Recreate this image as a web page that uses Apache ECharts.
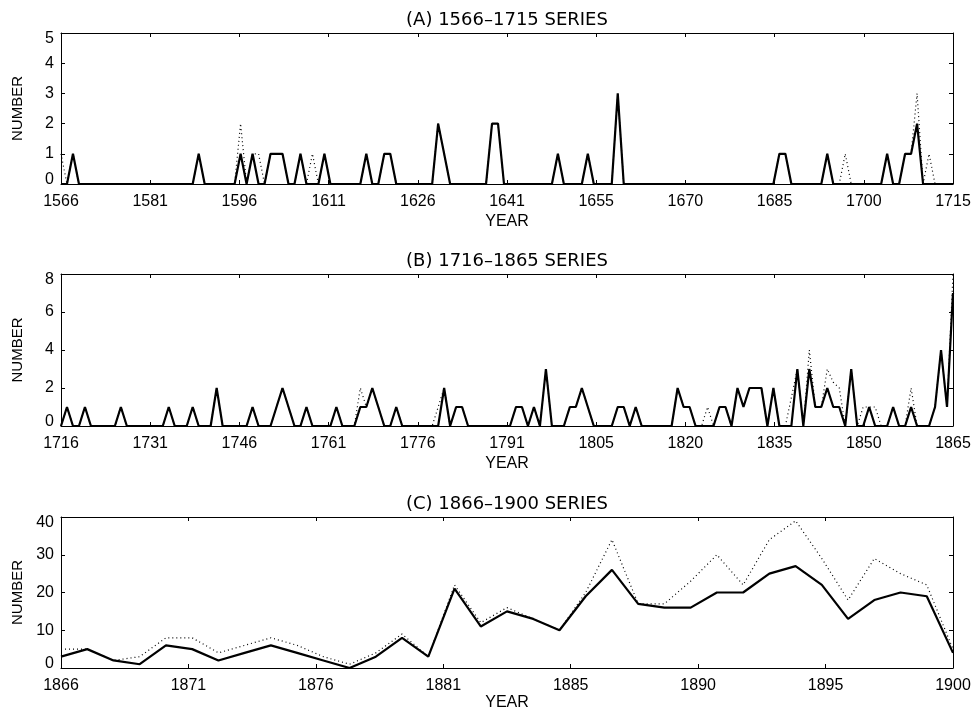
<!DOCTYPE html>
<html>
<head>
<meta charset="utf-8">
<title>Series 1566-1900</title>
<script src="https://cdn.jsdelivr.net/npm/echarts@6/dist/echarts.min.js"></script>
<style>
  html, body { margin: 0; padding: 0; background: #fff; }
  #chart { width: 976px; height: 712px; }
</style>
</head>
<body>
<div id="chart"></div>
<script>
// ---- data (one value per year) ----
const START_A = 1566, END_A = 1715
const LABELS_A = ['1566', '1581', '1596', '1611', '1626', '1641', '1655', '1670', '1685', '1700', '1715']
const SOLID_A = [
  0, 0, 1, 0, 0, 0, 0, 0, 0, 0, // 1566
  0, 0, 0, 0, 0, 0, 0, 0, 0, 0, // 1576
  0, 0, 0, 1, 0, 0, 0, 0, 0, 0, // 1586
  1, 0, 1, 0, 0, 1, 1, 1, 0, 0, // 1596
  1, 0, 0, 0, 1, 0, 0, 0, 0, 0, // 1606
  0, 1, 0, 0, 1, 1, 0, 0, 0, 0, // 1616
  0, 0, 0, 2, 1, 0, 0, 0, 0, 0, // 1626
  0, 0, 2, 2, 0, 0, 0, 0, 0, 0, // 1636
  0, 0, 0, 1, 0, 0, 0, 0, 1, 0, // 1646
  0, 0, 0, 3, 0, 0, 0, 0, 0, 0, // 1656
  0, 0, 0, 0, 0, 0, 0, 0, 0, 0, // 1666
  0, 0, 0, 0, 0, 0, 0, 0, 0, 0, // 1676
  1, 1, 0, 0, 0, 0, 0, 0, 1, 0, // 1686
  0, 0, 0, 0, 0, 0, 0, 0, 1, 0, // 1696
  0, 1, 1, 2, 0, 0, 0, 0, 0, 0, // 1706
]
const DOTTED_A = [
  1, 0, 1, 0, 0, 0, 0, 0, 0, 0, // 1566
  0, 0, 0, 0, 0, 0, 0, 0, 0, 0, // 1576
  0, 0, 0, 1, 0, 0, 0, 0, 0, 0, // 1586
  2, 0, 1, 1, 0, 1, 1, 1, 0, 0, // 1596
  1, 0, 1, 0, 1, 0, 0, 0, 0, 0, // 1606
  0, 1, 0, 0, 1, 1, 0, 0, 0, 0, // 1616
  0, 0, 0, 2, 1, 0, 0, 0, 0, 0, // 1626
  0, 0, 2, 2, 0, 0, 0, 0, 0, 0, // 1636
  0, 0, 0, 1, 0, 0, 0, 0, 1, 0, // 1646
  0, 0, 0, 3, 0, 0, 0, 0, 0, 0, // 1656
  0, 0, 0, 0, 0, 0, 0, 0, 0, 0, // 1666
  0, 0, 0, 0, 0, 0, 0, 0, 0, 0, // 1676
  1, 1, 0, 0, 0, 0, 0, 0, 1, 0, // 1686
  0, 1, 0, 0, 0, 0, 0, 0, 1, 0, // 1696
  0, 1, 1, 3, 0, 1, 0, 0, 0, 0, // 1706
]

const START_B = 1716, END_B = 1865
const LABELS_B = ['1716', '1731', '1746', '1761', '1776', '1791', '1805', '1820', '1835', '1850', '1865']
const SOLID_B = [
  0, 1, 0, 0, 1, 0, 0, 0, 0, 0, // 1716
  1, 0, 0, 0, 0, 0, 0, 0, 1, 0, // 1726
  0, 0, 1, 0, 0, 0, 2, 0, 0, 0, // 1736
  0, 0, 1, 0, 0, 0, 1, 2, 1, 0, // 1746
  0, 1, 0, 0, 0, 0, 1, 0, 0, 0, // 1756
  1, 1, 2, 1, 0, 0, 1, 0, 0, 0, // 1766
  0, 0, 0, 0, 2, 0, 1, 1, 0, 0, // 1776
  0, 0, 0, 0, 0, 0, 1, 1, 0, 1, // 1786
  0, 3, 0, 0, 0, 1, 1, 2, 1, 0, // 1796
  0, 0, 0, 1, 1, 0, 1, 0, 0, 0, // 1806
  0, 0, 0, 2, 1, 1, 0, 0, 0, 0, // 1816
  1, 1, 0, 2, 1, 2, 2, 2, 0, 2, // 1826
  0, 0, 0, 3, 0, 3, 1, 1, 2, 1, // 1836
  1, 0, 3, 0, 0, 1, 0, 0, 0, 1, // 1846
  0, 0, 1, 0, 0, 0, 1, 4, 1, 7, // 1856
]
const DOTTED_B = [
  0, 1, 0, 0, 1, 0, 0, 0, 0, 0, // 1716
  1, 0, 0, 0, 0, 0, 0, 0, 1, 0, // 1726
  0, 0, 1, 0, 0, 0, 2, 0, 0, 0, // 1736
  0, 0, 1, 0, 0, 0, 1, 2, 1, 0, // 1746
  0, 1, 0, 0, 0, 0, 1, 0, 0, 0, // 1756
  2, 1, 2, 1, 0, 0, 1, 0, 0, 0, // 1766
  0, 0, 0, 1, 2, 0, 1, 1, 0, 0, // 1776
  0, 0, 0, 0, 0, 0, 1, 1, 0, 1, // 1786
  0, 3, 0, 0, 0, 1, 1, 2, 1, 0, // 1796
  0, 0, 0, 1, 1, 0, 1, 0, 0, 0, // 1806
  0, 0, 0, 2, 1, 1, 0, 0, 1, 0, // 1816
  1, 1, 0, 2, 1, 2, 2, 2, 0, 2, // 1826
  0, 0, 1.5, 3, 0, 4, 1, 1, 3, 2.3, // 1836
  2, 0, 3, 0, 1, 1, 1, 0, 0, 1, // 1846
  0, 0, 2, 0, 0, 0, 1, 4, 1, 8, // 1856
]

const START_C = 1866, END_C = 1900
const LABELS_C = ['1866', '1871', '1876', '1881', '1885', '1890', '1895', '1900']
const SOLID_C = [
  3, 5, 2, 1, 6, 5, 2, 4, 6, 4, // 1866
  2, 0, 3, 8, 3, 21, 11, 15, 13, 10, // 1876
  19, 26, 17, 16, 16, 20, 20, 25, 27, 22, // 1886
  13, 18, 20, 19, 4, // 1896
]
const DOTTED_C = [
  5, 5, 2, 3, 8, 8, 4, 6, 8, 6, // 1866
  3, 1, 4, 9, 3, 22, 12, 16, 13, 10, // 1876
  20, 34, 17, 17, 23, 30, 22, 34, 39, 29, // 1886
  18, 29, 25, 22, 5, // 1896
]

const PANELS = [
  { title: '(A) 1566–1715 SERIES', start: START_A, end: END_A, labels: LABELS_A, yMax: 5, yStep: 1, solid: SOLID_A, dotted: DOTTED_A, top: 33, height: 151, yearGap: 30 },
  { title: '(B) 1716–1865 SERIES', start: START_B, end: END_B, labels: LABELS_B, yMax: 8, yStep: 2, solid: SOLID_B, dotted: DOTTED_B, top: 274, height: 152, yearGap: 30 },
  { title: '(C) 1866–1900 SERIES', start: START_C, end: END_C, labels: LABELS_C, yMax: 40, yStep: 10, solid: SOLID_C, dotted: DOTTED_C, top: 517, height: 151, yearGap: 26 },
]

const INK = '#000'
const LABEL_FONT = 'Liberation Sans'

// IDL style: ticks split the span into equal parts, labels are rounded years
function tickValues(start, end, count) {
  const step = (end - start) / (count - 1)
  return Array.from({ length: count }, (_, i) => start + i * step)
}

function pairs(start, vals) {
  return vals.map((v, i) => [start + i, v])
}

function buildOption() {
  const grid = [], xAxis = [], yAxis = [], series = []
  const line = { show: true, onZero: false, lineStyle: { color: INK, width: 1 } }
  const tick = { show: true, inside: true, length: 4, lineStyle: { color: INK, width: 1 } }
  const labelText = { color: INK, fontFamily: LABEL_FONT, fontSize: 16 }

  PANELS.forEach((p, k) => {
    grid.push({ left: 61, right: 23, top: p.top, height: p.height })

    const ticks = tickValues(p.start, p.end, p.labels.length)
    const step = (p.end - p.start) / (p.labels.length - 1)
    const xCommon = {
      gridIndex: k,
      type: 'value',
      min: p.start,
      max: p.end,
      axisLine: line,
      axisTick: { ...tick, customValues: ticks },
      splitLine: { show: false },
    }
    xAxis.push({
      ...xCommon,
      position: 'bottom',
      name: 'YEAR',
      nameLocation: 'middle',
      nameGap: p.yearGap,
      nameTextStyle: labelText,
      axisLabel: {
        ...labelText,
        customValues: ticks,
        formatter: (v) => p.labels[Math.round((v - p.start) / step)],
        margin: 10,
      },
    })
    xAxis.push({
      ...xCommon,
      position: 'top',
      name: p.title,
      nameLocation: 'middle',
      nameGap: 4,
      nameTextStyle: { color: INK, fontFamily: 'DejaVu Sans', fontSize: 18 },
      axisLabel: { show: false },
    })

    const yCommon = {
      gridIndex: k,
      type: 'value',
      min: 0,
      max: p.yMax,
      interval: p.yStep,
      axisLine: line,
      axisTick: tick,
      splitLine: { show: false },
    }
    yAxis.push({
      ...yCommon,
      position: 'left',
      name: 'NUMBER',
      nameLocation: 'middle',
      nameGap: 36,
      nameTextStyle: { color: INK, fontFamily: LABEL_FONT, fontSize: 15 },
      axisLabel: {
        ...labelText,
        margin: 7,
        // end labels nudged inside the box, as the original plot does
        formatter: (v) => v === 0 ? `{lo|${v}}` : v === p.yMax ? `{hi|${v}}` : String(v),
        rich: {
          lo: { ...labelText, padding: [0, 0, 9, 0] },
          hi: { ...labelText, padding: [12, 0, 0, 0] },
        },
      },
    })
    yAxis.push({ ...yCommon, position: 'right', axisLabel: { show: false } })

    series.push({
      type: 'line',
      xAxisIndex: 2 * k,
      yAxisIndex: 2 * k,
      data: pairs(p.start, p.dotted),
      showSymbol: false,
      lineStyle: { color: INK, width: 1.2, type: [1, 3] },
      z: 2,
    })
    series.push({
      type: 'line',
      xAxisIndex: 2 * k,
      yAxisIndex: 2 * k,
      data: pairs(p.start, p.solid),
      showSymbol: false,
      lineStyle: { color: INK, width: 2.2 },
      z: 3,
    })
  })

  return { animation: false, backgroundColor: '#fff', grid, xAxis, yAxis, series }
}

const chart = echarts.init(document.getElementById('chart'))
chart.setOption(buildOption())
</script>
</body>
</html>
